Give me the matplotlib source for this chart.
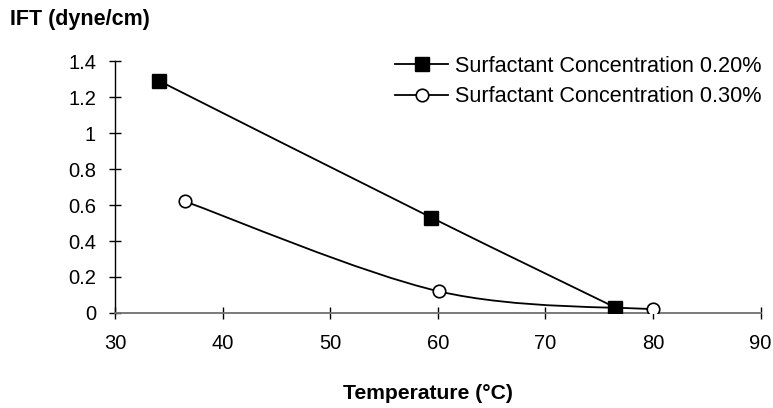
import numpy as np
import matplotlib.pyplot as plt
from matplotlib.path import Path
from matplotlib.patches import PathPatch
from matplotlib.lines import Line2D

plt.rcParams['font.family'] = ['Liberation Sans', 'DejaVu Sans']

# data
temp_020 = [34.1, 59.4, 76.5]
ift_020 = [1.29, 0.53, 0.03]
temp_030 = [36.5, 60.1, 80.0]
ift_030 = [0.62, 0.12, 0.02]
labels = ["Surfactant Concentration 0.20%", "Surfactant Concentration 0.30%"]
xticks = [30, 40, 50, 60, 70, 80, 90]
yticks = [0, 0.2, 0.4, 0.6, 0.8, 1.0, 1.2, 1.4]
ytick_labels = ["0", "0.2", "0.4", "0.6", "0.8", "1", "1.2", "1.4"]


# Excel-like smoothed line (Catmull-Rom as cubic bezier)
def smooth_path(x, y):
    p = np.column_stack([x, y])
    verts = [p[0]]
    codes = [Path.MOVETO]
    n = len(p)
    for i in range(n - 1):
        p0 = p[i - 1] if i > 0 else p[i]
        p1 = p[i]
        p2 = p[i + 1]
        p3 = p[i + 2] if i + 2 < n else p[i + 1]
        c1 = p1 + (p2 - p0) / 6
        c2 = p2 - (p3 - p1) / 6
        verts += [c1, c2, p2]
        codes += [Path.CURVE4] * 3
    return Path(verts, codes)


fig = plt.figure(figsize=(7.73, 4.08), dpi=100)
ax = fig.add_axes([0.149, 0.233, 0.835, 0.617])

for x, y in [(temp_020, ift_020), (temp_030, ift_030)]:
    ax.add_patch(PathPatch(smooth_path(x, y), fill=False, lw=1.3, color='black'))

ax.plot(temp_020, ift_020, ls='none', marker='s', ms=9.5, mfc='black', mec='black', zorder=3)
ax.plot(temp_030, ift_030, ls='none', marker='o', ms=9, mfc='white', mec='black', mew=1.2, zorder=3)

ax.set_xlim(30, 90)
ax.set_ylim(0, 1.4)
ax.set_xticks(xticks)
ax.set_yticks(yticks)
ax.set_yticklabels(ytick_labels)
ax.tick_params(direction='inout', length=8.6, width=1, labelsize=14.5, colors='black')
ax.tick_params(axis='y', pad=9.5)
ax.tick_params(axis='x', pad=11)
for s in ['top', 'right']:
    ax.spines[s].set_visible(False)
ax.spines['left'].set_linewidth(1)
ax.spines['bottom'].set_color('#707070')
ax.spines['bottom'].set_linewidth(1.3)

handles = [
    Line2D([], [], color='black', lw=1.3, marker='s', ms=9.5, mfc='black'),
    Line2D([], [], color='black', lw=1.3, marker='o', ms=9, mfc='white', mew=1.2),
]
fig.legend(handles, labels, loc='upper left', bbox_to_anchor=(395 / 773, 1 - 56 / 408),
           frameon=False, fontsize=15.6, handlelength=2.45, handletextpad=0.32,
           labelspacing=0.42, borderpad=0, borderaxespad=0)

fig.text(10 / 773, 1 - 19 / 408, "IFT (dyne/cm)", fontsize=15.5, fontweight='bold',
         ha='left', va='center')
fig.text(428 / 773, 1 - 399 / 408, "Temperature (\u00b0C)", fontsize=15.2, fontweight='bold',
         ha='center', va='baseline')

fig.savefig("out.png", dpi=100)
